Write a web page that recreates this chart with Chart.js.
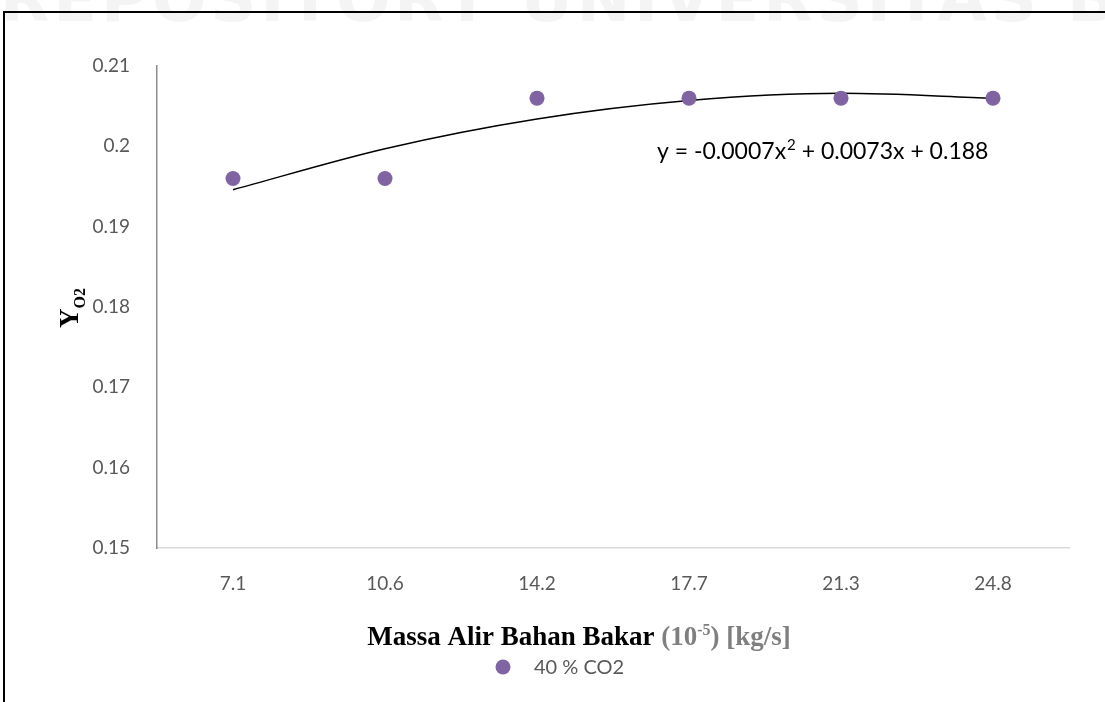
<!DOCTYPE html>
<html>
<head>
<meta charset="utf-8">
<script src="https://cdn.jsdelivr.net/npm/chart.js@4.4.0/dist/chart.umd.min.js"></script>
<style>
  html, body { margin: 0; padding: 0; background: #fff; overflow: hidden; }
  #wrap { position: relative; width: 1105px; height: 702px; }
  #mark { position: absolute; left: 0; top: -38px; width: 1105px; white-space: nowrap;
          font: bold 64px 'DejaVu Sans', sans-serif; color: #f4f4f4; letter-spacing: 4px; }
  #frame { position: absolute; left: 3px; top: 11px; width: 1110px; height: 700px;
           border-left: 2px solid #000; border-top: 2px solid #000; }
  canvas { position: absolute; left: 0; top: 0; }
</style>
</head>
<body>
<div id="wrap">
  <div id="mark">REPOSITORY UNIVERSITAS BRAWIJAYA REPOSITORY</div>
  <div id="frame"></div>
  <canvas id="chart" width="1105" height="702"></canvas>
</div>
<script>
// Fuel mass flow categories (10^-5 kg/s)
const categories = ['7.1', '10.6', '14.2', '17.7', '21.3', '24.8'];
// Y_O2 readings for 40 % CO2
const yO2 = [0.196, 0.196, 0.206, 0.206, 0.206, 0.206];
// Polynomial trendline read at each category
const trendValues = [0.1946, 0.1997, 0.2034, 0.2057, 0.2066, 0.2060];
const seriesLabel = '40 % CO2';
const yMin = 0.15;
const yMax = 0.21;
const yStep = 0.01;

const purple = '#8064A2';
const tickGray = '#595959';
const sansFont = 'Lato, "Open Sans", sans-serif';

// Draws titles, legend and trendline equation
const labelsPlugin = {
  id: 'labels',
  afterDraw(chart) {
    const ctx = chart.ctx;
    ctx.save();

    // x axis title, black part then gray part with superscript
    const bigFont = 'bold 27px "Liberation Serif", "Times New Roman", serif';
    const supFont = 'bold 16px "Liberation Serif", "Times New Roman", serif';
    const partA = 'Massa Alir Bahan Bakar ';
    const partB = '(10';
    const partSup = '-5';
    const partC = ') [kg/s]';
    ctx.font = bigFont;
    const wA = ctx.measureText(partA).width;
    const wB = ctx.measureText(partB).width;
    const wC = ctx.measureText(partC).width;
    ctx.font = supFont;
    const wS = ctx.measureText(partSup).width;
    const total = wA + wB + wS + wC;
    let x = 579 - total / 2;
    const baseY = 645;
    ctx.textBaseline = 'alphabetic';
    ctx.textAlign = 'left';
    ctx.font = bigFont;
    ctx.fillStyle = '#000';
    ctx.fillText(partA, x, baseY);
    x += wA;
    ctx.fillStyle = '#7f7f7f';
    ctx.fillText(partB, x, baseY);
    x += wB;
    ctx.font = supFont;
    ctx.fillText(partSup, x, baseY - 10);
    x += wS;
    ctx.font = bigFont;
    ctx.fillText(partC, x, baseY);

    // y axis title: Y with subscript O2, rotated
    ctx.save();
    ctx.translate(78, 308);
    ctx.rotate(-Math.PI / 2);
    ctx.fillStyle = '#000';
    ctx.font = 'bold 27px "Liberation Serif", "Times New Roman", serif';
    const wY = ctx.measureText('Y').width;
    ctx.font = 'bold 16px "Liberation Serif", "Times New Roman", serif';
    const wO = ctx.measureText('O2').width;
    const startX = -(wY + wO) / 2;
    ctx.font = 'bold 27px "Liberation Serif", "Times New Roman", serif';
    ctx.fillText('Y', startX, 0);
    ctx.font = 'bold 16px "Liberation Serif", "Times New Roman", serif';
    ctx.fillText('O2', startX + wY, 7);
    ctx.restore();

    // legend
    ctx.fillStyle = purple;
    ctx.beginPath();
    ctx.arc(503, 667, 7.5, 0, Math.PI * 2);
    ctx.fill();
    ctx.fillStyle = tickGray;
    ctx.font = '20px ' + sansFont;
    ctx.textBaseline = 'middle';
    ctx.fillText(chart.data.datasets[0].label, 534, 668);

    // trendline equation with superscript 2
    ctx.fillStyle = '#000';
    ctx.textBaseline = 'alphabetic';
    const eqFont = '23px ' + sansFont;
    const eqSup = '15px ' + sansFont;
    const eqA = 'y = -0.0007x';
    const eqB = ' + 0.0073x + 0.188';
    let ex = 657;
    const ey = 159;
    ctx.font = eqFont;
    ctx.fillText(eqA, ex, ey);
    ex += ctx.measureText(eqA).width + 1;
    ctx.font = eqSup;
    ctx.fillText('2', ex, ey - 9);
    ex += ctx.measureText('2').width;
    ctx.font = eqFont;
    ctx.fillText(eqB, ex, ey);

    ctx.restore();
  }
};

const ctx = document.getElementById('chart').getContext('2d');
new Chart(ctx, {
  type: 'line',
  data: {
    labels: categories,
    datasets: [
      {
        label: seriesLabel,
        data: yO2,
        showLine: false,
        pointRadius: 7.5,
        pointHoverRadius: 7.5,
        pointBackgroundColor: purple,
        pointBorderColor: purple,
        pointBorderWidth: 0,
        order: 0,
      },
      {
        label: 'trend',
        data: trendValues,
        borderColor: '#000',
        borderWidth: 1.5,
        pointRadius: 0,
        fill: false,
        cubicInterpolationMode: 'monotone',
        order: 1,
      },
    ],
  },
  options: {
    responsive: false,
    animation: false,
    layout: { padding: { top: 66, right: 36, left: 0, bottom: 0 } },
    plugins: {
      legend: { display: false },
      tooltip: { enabled: false },
    },
    scales: {
      x: {
        offset: true,
        grid: { display: false, drawTicks: false },
        border: { display: true, color: '#d9d9d9', width: 1.5 },
        ticks: {
          color: tickGray,
          font: { family: sansFont, size: 19 },
          padding: 24,
          maxRotation: 0,
        },
        afterFit: scale => { scale.height = 154; },
      },
      y: {
        min: yMin,
        max: yMax,
        grid: { display: false, drawTicks: false },
        border: { display: true, color: '#8c8c8c', width: 1.5 },
        ticks: {
          stepSize: yStep,
          color: tickGray,
          font: { family: sansFont, size: 19 },
          padding: 27,
          callback: value => String(+value.toFixed(2)),
        },
        afterFit: scale => { scale.width = 157; },
      },
    },
  },
  plugins: [labelsPlugin],
});
</script>
</body>
</html>
